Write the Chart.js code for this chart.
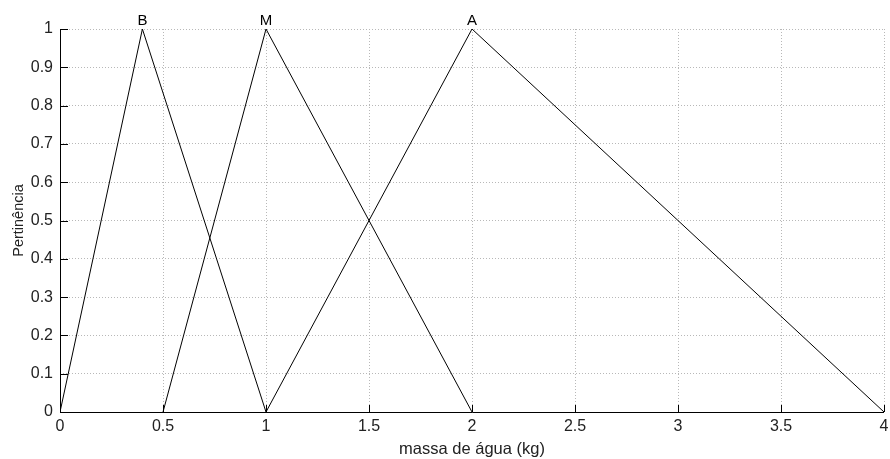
<!DOCTYPE html>
<html>
<head>
<meta charset="utf-8">
<script src="https://cdn.jsdelivr.net/npm/chart.js@4/dist/chart.umd.min.js"></script>
<style>
  html, body { margin: 0; padding: 0; background: #fff; }
  #wrap { width: 890px; height: 459px; }
</style>
</head>
<body>
<div id="wrap"><canvas id="pertinencia"></canvas></div>
<script>
// funções de pertinência triangulares (massa de água em kg)
const nomes = ["B", "M", "A"];
const xB = [0, 0.4, 1];
const yB = [0, 1, 0];
const xM = [0.5, 1, 2];
const yM = [0, 1, 0];
const xA = [1, 2, 4];
const yA = [0, 1, 0];
const xTicks = [0, 0.5, 1, 1.5, 2, 2.5, 3, 3.5, 4];
const yTicks = [0, 0.1, 0.2, 0.3, 0.4, 0.5, 0.6, 0.7, 0.8, 0.9, 1];

const font = "'Liberation Sans', Arial, sans-serif";

function pts(xs, ys) {
  return xs.map((x, i) => ({ x: x, y: ys[i] }));
}

const series = [pts(xB, yB), pts(xM, yM), pts(xA, yA)];

// eixos, marcas internas e rótulos dos conjuntos
const eixos = {
  id: "eixos",
  afterDatasetsDraw(chart) {
    const ctx = chart.ctx;
    const a = chart.chartArea;
    const sx = chart.scales.x;
    const sy = chart.scales.y;
    ctx.save();
    ctx.strokeStyle = "#000";
    ctx.lineWidth = 1;
    ctx.beginPath();
    ctx.moveTo(a.left + 0.5, a.top);
    ctx.lineTo(a.left + 0.5, a.bottom + 0.5);
    ctx.lineTo(a.right, a.bottom + 0.5);
    yTicks.forEach((v) => {
      const py = Math.round(sy.getPixelForValue(v)) + 0.5;
      ctx.moveTo(a.left, py);
      ctx.lineTo(a.left + 8, py);
    });
    xTicks.forEach((v) => {
      const px = Math.round(sx.getPixelForValue(v)) + 0.5;
      ctx.moveTo(px, a.bottom);
      ctx.lineTo(px, a.bottom - 7);
    });
    ctx.stroke();

    ctx.fillStyle = "#000";
    ctx.font = "15px " + font;
    ctx.textAlign = "center";
    ctx.textBaseline = "bottom";
    series.forEach((s, i) => {
      const pico = s[1];
      ctx.fillText(nomes[i], sx.getPixelForValue(pico.x), sy.getPixelForValue(pico.y) - 1);
    });
    ctx.restore();
  },
};

new Chart(document.getElementById("pertinencia"), {
  type: "line",
  data: {
    datasets: series.map((s, i) => ({
      label: nomes[i],
      data: s,
      borderColor: "#000",
      borderWidth: 1,
      pointRadius: 0,
      fill: false,
      tension: 0,
    })),
  },
  options: {
    responsive: true,
    maintainAspectRatio: false,
    animation: false,
    layout: { padding: { top: 29, right: 6, left: 0, bottom: 0 } },
    plugins: { legend: { display: false }, tooltip: { enabled: false } },
    scales: {
      x: {
        type: "linear",
        min: 0,
        max: 4,
        afterBuildTicks: (s) => { s.ticks = xTicks.map((v) => ({ value: v })); },
        afterFit: (s) => { s.height = 47; s.paddingRight = 0; s.paddingLeft = 0; },
        grid: { color: "#b8b8b8", drawTicks: false },
        border: { display: false, dash: [1, 2] },
        ticks: {
          color: "#222",
          padding: 5,
          font: { family: font, size: 16 },
          callback: (v) => String(v),
        },
        title: {
          display: true,
          text: "massa de água (kg)",
          color: "#222",
          padding: { top: 0, bottom: 0 },
          font: { family: font, size: 16.5 },
        },
      },
      y: {
        type: "linear",
        min: 0,
        max: 1,
        afterBuildTicks: (s) => { s.ticks = yTicks.map((v) => ({ value: v })); },
        afterFit: (s) => { s.width = 60; s.paddingTop = 0; s.paddingBottom = 0; },
        grid: { color: "#b8b8b8", drawTicks: false },
        border: { display: false, dash: [1, 2] },
        ticks: {
          color: "#222",
          padding: 7,
          font: { family: font, size: 16 },
          callback: (v) => String(v),
        },
        title: {
          display: true,
          text: "Pertinência",
          color: "#222",
          padding: { top: 10, bottom: 0 },
          font: { family: font, size: 14.5 },
        },
      },
    },
  },
  plugins: [eixos],
});
</script>
</body>
</html>
